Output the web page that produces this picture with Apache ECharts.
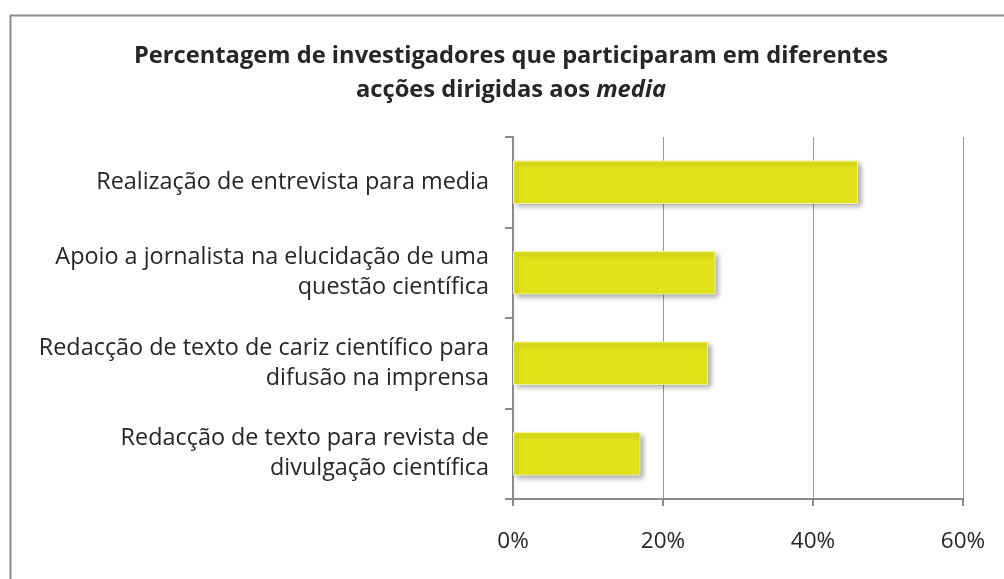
<!DOCTYPE html>
<html>
<head>
<meta charset="utf-8">
<script src="https://cdn.jsdelivr.net/npm/echarts@6/dist/echarts.min.js"></script>
<style>
  html, body { margin: 0; padding: 0; background: #fff; }
  #chart { width: 1004px; height: 579px; }
</style>
</head>
<body>
<div id="chart"></div>
<script>
// categorias (de cima para baixo)
var categories = [
  "Realização de entrevista para media",
  "Apoio a jornalista na elucidação de uma\nquestão científica",
  "Redacção de texto de cariz científico para\ndifusão na imprensa",
  "Redacção de texto para revista de\ndivulgação científica"
];
var percentages = [46, 27, 26, 17];
var tickValues = [0, 20, 40, 60];

var chart = echarts.init(document.getElementById("chart"));
window.addEventListener("resize", function () {
  chart.resize();
});

var axisGray = "#8c8c8c";

chart.setOption({
  animation: false,
  // moldura exterior
  graphic: [
    {
      type: "rect",
      left: 8,
      top: 13,
      shape: { width: 1010, height: 600 },
      style: { fill: "none", stroke: "#8a8a8a", lineWidth: 2 },
      silent: true
    }
  ],
  title: {
    text: "{b|Percentagem de investigadores que participaram em diferentes}\n{b|acções dirigidas aos }{i|media}",
    left: 506,
    top: 34,
    textAlign: "center",
    textStyle: {
      rich: {
        b: {
          fontFamily: "Open Sans",
          fontWeight: "bold",
          fontSize: 23.7,
          color: "#262626",
          lineHeight: 34
        },
        i: {
          fontFamily: "Open Sans",
          fontWeight: "bold",
          fontStyle: "italic",
          fontSize: 23.7,
          color: "#262626",
          lineHeight: 34
        }
      }
    }
  },
  grid: {
    left: 513,
    right: 41,
    top: 137,
    bottom: 80,
    containLabel: false
  },
  xAxis: {
    type: "value",
    min: 0,
    max: 60,
    interval: 20,
    axisLabel: {
      margin: 31,
      fontFamily: "Open Sans",
      fontSize: 22.5,
      color: "#262626",
      formatter: function (v) {
        return tickValues.indexOf(v) >= 0 ? v + "%" : "";
      }
    },
    axisLine: {
      show: true,
      lineStyle: { color: axisGray, width: 2 }
    },
    axisTick: {
      show: true,
      length: 7,
      lineStyle: { color: axisGray, width: 2 }
    },
    splitLine: {
      show: true,
      lineStyle: { color: "#9a9a9a", width: 1 }
    }
  },
  yAxis: {
    type: "category",
    inverse: true,
    data: categories,
    axisLabel: {
      margin: 24,
      fontFamily: "Open Sans",
      fontSize: 23.4,
      lineHeight: 30,
      color: "#262626",
      align: "right"
    },
    axisLine: {
      show: true,
      lineStyle: { color: axisGray, width: 2 }
    },
    axisTick: {
      show: true,
      length: 8,
      alignWithLabel: false,
      lineStyle: { color: axisGray, width: 2 }
    }
  },
  series: [
    {
      type: "bar",
      data: percentages,
      barCategoryGap: "52%",
      itemStyle: {
        color: "#e1e419",
        borderColor: "#f3f3a0",
        borderWidth: 1,
        shadowBlur: 5,
        shadowOffsetX: 3,
        shadowOffsetY: 3,
        shadowColor: "rgba(0,0,0,0.35)"
      }
    }
  ]
});
</script>
</body>
</html>
